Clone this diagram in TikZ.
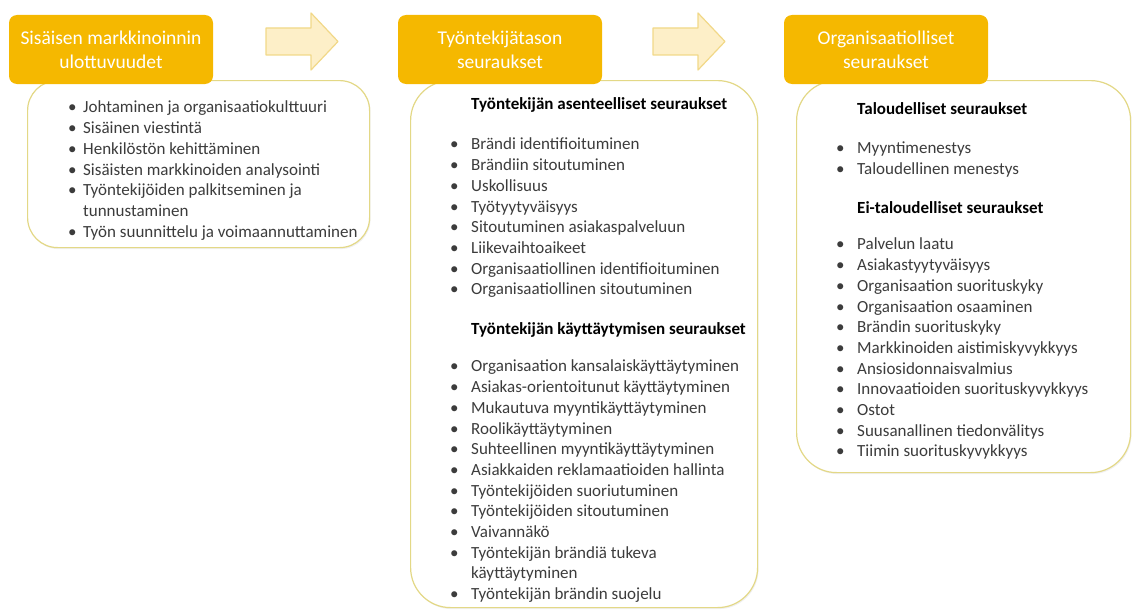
\documentclass[tikz,border=0pt]{standalone}
\usepackage{fontspec}
\setmainfont{Carlito}
\usetikzlibrary{
    shapes,
    shadows,
    %positioning,
}
\definecolor{gold}{HTML}{F5B800}
\definecolor{paleline}{HTML}{E3D886}
\definecolor{arrowfill}{HTML}{FDEFC8}
\definecolor{arrowline}{HTML}{F1D888}
\definecolor{itemgray}{HTML}{3C3C3C}
\newcommand{\bul}[1][21pt]{\makebox[#1][l]{\textbullet}}
\newcommand{\cont}[1][21pt]{\hspace*{#1}}

\begin{document}
\begin{tikzpicture}[x=1pt, y=-1pt,
        header/.style={rectangle, rounded corners=8pt, fill=gold, text=white, minimum width=204pt, minimum height=69pt, align=center, font=\fontsize{19.5}{24}\selectfont},
        panel/.style={rectangle, rounded corners=40pt, draw=paleline, line width=1.2pt, fill=white, anchor=north west, drop shadow={opacity=0.12, shadow xshift=1pt, shadow yshift=-1.5pt}},
        listing/.style={anchor=north west, inner sep=0pt, align=left, text=itemgray, font=\fontsize{17}{20.7}\selectfont},
        subhead/.style={listing, text=black, font=\fontsize{17}{20.7}\selectfont\bfseries},
        flowarrow/.style={fill=arrowfill, draw=arrowline, line width=1.2pt, line join=round},
        ]
    \useasboundingbox (0,0) rectangle (1132,610);

    % panels
    \node[panel, rounded corners=30pt, minimum width=342pt, minimum height=167pt] (body1) at (27,80) {};
    \node[panel, minimum width=347pt, minimum height=527pt] (body2) at (410,80) {};
    \node[panel, minimum width=334pt, minimum height=392pt] (body3) at (796,80) {};

    % headers
    \node[header] (head1) at (111,49.5) {Sisäisen markkinoinnin\\ulottuvuudet};
    \node[header] (head2) at (500,49.5) {Työntekijätason\\seuraukset};
    \node[header] (head3) at (886,49.5) {Organisaatiolliset\\seuraukset};

    % arrows
    \foreach \x in {266, 653}
        \draw[flowarrow] (\x,28) -- ++(45,0) -- ++(0,-15) -- ++(27,28.5) -- ++(-27,28.5) -- ++(0,-15) -- ++(-45,0) -- cycle;

    % first panel
    \node[listing] (list1) at (68,98.3) {\strut\bul[15pt]Johtaminen ja organisaatiokulttuuri\\
        \bul[15pt]Sisäinen viestintä\\
        \bul[15pt]Henkilöstön kehittäminen\\
        \bul[15pt]Sisäisten markkinoiden analysointi\\
        \bul[15pt]Työntekijöiden palkitseminen ja\\
        \cont[15pt]tunnustaminen\\
        \bul[15pt]Työn suunnittelu ja voimaannuttaminen};

    % second panel
    \node[subhead] (sub21) at (471,95.3) {\strut Työntekijän asenteelliset seuraukset};
    \node[listing] (list21) at (450,135.3) {\strut\bul Brändi identifioituminen\\
        \bul Brändiin sitoutuminen\\
        \bul Uskollisuus\\
        \bul Työtyytyväisyys\\
        \bul Sitoutuminen asiakaspalveluun\\
        \bul Liikevaihtoaikeet\\
        \bul Organisaatiollinen identifioituminen\\
        \bul Organisaatiollinen sitoutuminen};
    \node[subhead] (sub22) at (471,320.3) {\strut Työntekijän käyttäytymisen seuraukset};
    \node[listing] (list22) at (450,357.3) {\strut\bul Organisaation kansalaiskäyttäytyminen\\
        \bul Asiakas-orientoitunut käyttäytyminen\\
        \bul Mukautuva myyntikäyttäytyminen\\
        \bul Roolikäyttäytyminen\\
        \bul Suhteellinen myyntikäyttäytyminen\\
        \bul Asiakkaiden reklamaatioiden hallinta\\
        \bul Työntekijöiden suoriutuminen\\
        \bul Työntekijöiden sitoutuminen\\
        \bul Vaivannäkö\\
        \bul Työntekijän brändiä tukeva\\
        \cont käyttäytyminen\\
        \bul Työntekijän brändin suojelu};

    % third panel
    \node[subhead] (sub31) at (857,100.3) {\strut Taloudelliset seuraukset};
    \node[listing] (list31) at (836,139.3) {\strut\bul Myyntimenestys\\
        \bul Taloudellinen menestys};
    \node[subhead] (sub32) at (857,199.3) {\strut Ei-taloudelliset seuraukset};
    \node[listing] (list32) at (836,235.3) {\strut\bul Palvelun laatu\\
        \bul Asiakastyytyväisyys\\
        \bul Organisaation suorituskyky\\
        \bul Organisaation osaaminen\\
        \bul Brändin suorituskyky\\
        \bul Markkinoiden aistimiskyvykkyys\\
        \bul Ansiosidonnaisvalmius\\
        \bul Innovaatioiden suorituskyvykkyys\\
        \bul Ostot\\
        \bul Suusanallinen tiedonvälitys\\
        \bul Tiimin suorituskyvykkyys};
\end{tikzpicture}
\end{document}
